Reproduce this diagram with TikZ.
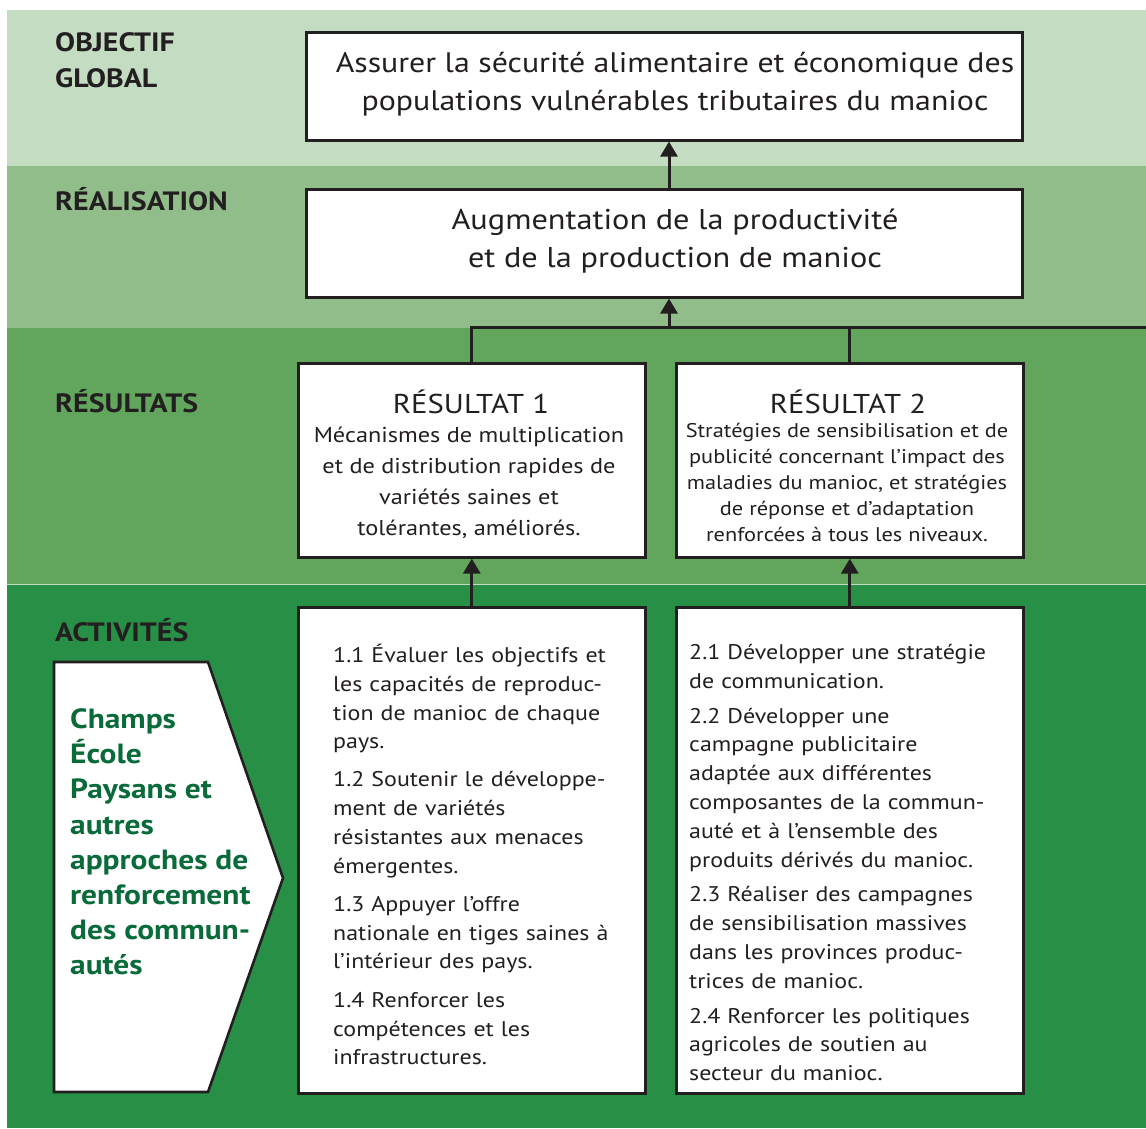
\documentclass[tikz,border=0pt]{standalone}
\usepackage{fontspec}
\setmainfont{PT Sans}[FakeStretch=1.13]
\usetikzlibrary{arrows.meta}
\definecolor{bandA}{HTML}{C4DCC2}
\definecolor{bandB}{HTML}{90BD8A}
\definecolor{bandC}{HTML}{62A65E}
\definecolor{bandD}{HTML}{288F47}
\definecolor{ink}{HTML}{231F20}
\definecolor{greentext}{HTML}{0A6B3A}
\tikzset{
  box/.style={draw=ink, line width=2.6pt, fill=white, rectangle, inner sep=0pt, anchor=north west},
  bandlabel/.style={font=\fontsize{26.5}{36}\selectfont\bfseries, text=ink, anchor=west, inner sep=0pt, align=left},
  boxtext/.style={text=ink, inner sep=0pt, align=center},
  acttext/.style={text=ink, inner sep=0pt, align=left, anchor=west, text width=320pt, font=\fontsize{21.2}{28.8}\selectfont},
  link/.style={draw=ink, line width=3pt},
  uparrow/.style={link, -{Triangle[width=17pt,length=15pt]}},
}
\begin{document}
\begin{tikzpicture}[x=1pt,y=-1pt]
\useasboundingbox (0,0) rectangle (1146,1128);
% bands
\fill[bandA] (7,10) rectangle (1146,166);
\fill[bandB] (7,166) rectangle (1146,328);
\fill[bandC] (7,328) rectangle (1146,584);
\fill[bandD] (7,584) rectangle (1146,1128);
\draw[white!60!bandC, line width=0.6pt] (7,584) -- (1146,584);

% band labels
\node[bandlabel] (lblobj) at (55,60) {OBJECTIF\\GLOBAL};
\node[bandlabel] (lblreal) at (55,199) {RÉALISATION};
\node[bandlabel] (lblres) at (55,401) {RÉSULTATS};
\node[bandlabel] (lblact) at (55,630) {ACTIVITÉS};

% boxes
\node[box, minimum width=716pt, minimum height=108pt] (obj) at (305,31) {};
\node[boxtext, font=\fontsize{28.2}{38}\selectfont] (objtxt) at (675,84)
  {Assurer la sécurité alimentaire et économique des\\
   populations vulnérables tributaires du manioc};

\node[box, minimum width=716pt, minimum height=108pt] (real) at (305,188) {};
\node[boxtext, font=\fontsize{28.6}{38}\selectfont] (realtxt) at (675,241)
  {Augmentation de la productivité\\et de la production de manioc};

\node[box, minimum width=347pt, minimum height=194pt] (res1) at (297,362) {};
\node[boxtext, font=\fontsize{27.2}{32}\selectfont] (res1title) at (471,402) {RÉSULTAT 1};
\node[boxtext, font=\fontsize{21.5}{31}\selectfont] (res1txt) at (469,483)
  {Mécanismes de multiplication\\et de distribution rapides de\\variétés saines et\\tolérantes, améliorés.};

\node[box, minimum width=347pt, minimum height=194pt] (res2) at (675,362) {};
\node[boxtext, font=\fontsize{27.2}{32}\selectfont] (res2title) at (848,402) {RÉSULTAT 2};
\node[boxtext, font=\fontsize{19.8}{26.2}\selectfont] (res2txt) at (847,482.5)
  {Stratégies de sensibilisation et de\\publicité concernant l’impact des\\maladies du manioc, et stratégies\\de réponse et d’adaptation\\renforcées à tous les niveaux.};

\node[box, minimum width=347pt, minimum height=486pt] (act1) at (297,606) {};
\node[acttext] (act1txt) at (333,854.5)
  {1.1 Évaluer les objectifs et\\
   les capacités de reproduc-\\
   tion de manioc de chaque\\
   pays.\\[9pt]
   1.2 Soutenir le développe-\\
   ment de variétés\\
   résistantes aux menaces\\
   émergentes.\\[9.5pt]
   1.3 Appuyer l’offre\\
   nationale en tiges saines à\\
   l’intérieur des pays.\\[9.5pt]
   1.4 Renforcer les\\
   compétences et les\\
   infrastructures.};

\node[box, minimum width=347pt, minimum height=486pt] (act2) at (675,606) {};
\node[acttext] (act2txt) at (689,862.5)
  {2.1 Développer une stratégie\\
   de communication.\\[6pt]
   2.2 Développer une\\
   campagne publicitaire\\
   adaptée aux différentes\\
   composantes de la commun-\\
   auté et à l’ensemble des\\
   produits dérivés du manioc.\\[6pt]
   2.3 Réaliser des campagnes\\
   de sensibilisation massives\\
   dans les provinces produc-\\
   trices de manioc.\\[6pt]
   2.4 Renforcer les politiques\\
   agricoles de soutien au\\
   secteur du manioc.};

% pentagon
\coordinate (pA) at (54,662);
\coordinate (pB) at (208,662);
\coordinate (pC) at (283,878);
\coordinate (pD) at (208,1092);
\coordinate (pE) at (54,1092);
\draw[draw=ink, line width=2.6pt, fill=white, line join=miter] (pA) -- (pB) -- (pC) -- (pD) -- (pE) -- cycle;
\node[inner sep=0pt, anchor=west, align=left, text=greentext,
      font=\fontsize{27.8}{35.2}\selectfont\bfseries] (approach) at (70,842)
  {Champs\\École\\Paysans et\\autres\\approches de\\renforcement\\des commun-\\autés};

% connectors
\coordinate (bus) at (669,327);
\coordinate (busR) at (1146,327);
\draw[uparrow] (bus |- real.north) -- (bus |- obj.south);
\draw[uparrow] (bus) -- (bus |- real.south);
\draw[link] (res1.north) |- (busR);
\draw[link] (res2.north) -- (res2.north |- busR);
\draw[uparrow] (act1.north) -- (res1.south);
\draw[uparrow] (act2.north) -- (res2.south);
\end{tikzpicture}
\end{document}
